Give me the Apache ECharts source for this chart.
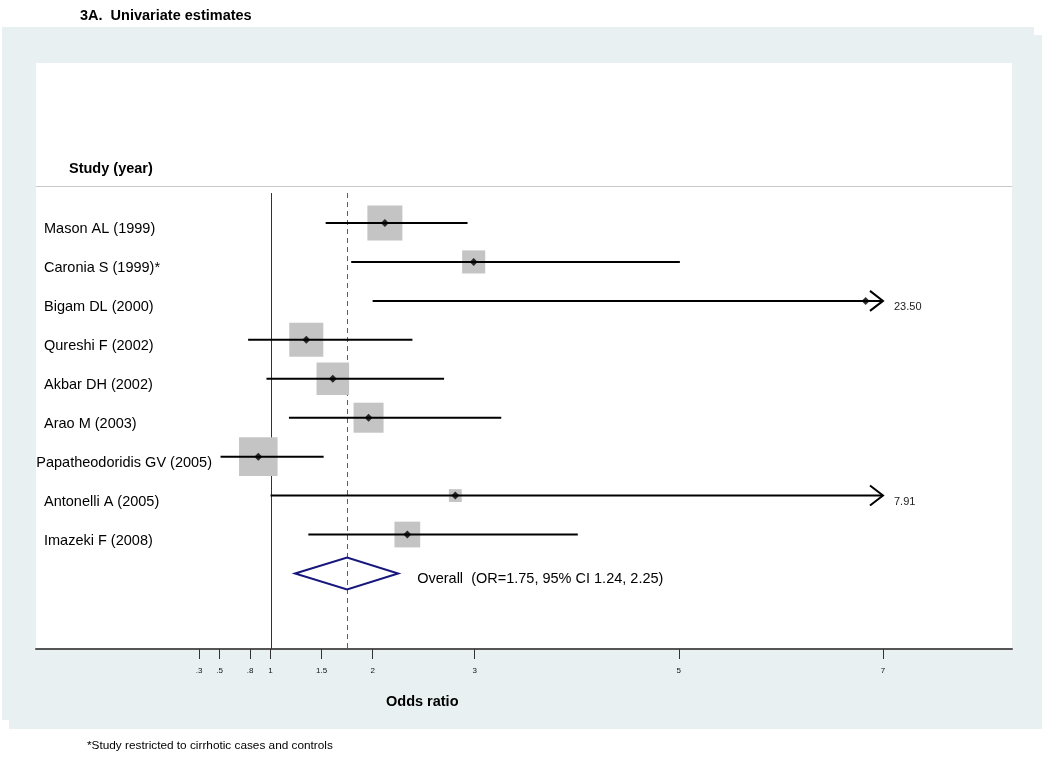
<!DOCTYPE html>
<html>
<head>
<meta charset="utf-8">
<script src="https://cdn.jsdelivr.net/npm/echarts@6/dist/echarts.min.js"></script>
<style>
html,body{margin:0;padding:0;background:#fff;}
#chart{width:1050px;height:762px;}
</style>
</head>
<body>
<div id="chart"></div>
<script>
// ---- data ----
const studies = ['Mason AL (1999)', 'Caronia S (1999)*', 'Bigam DL (2000)', 'Qureshi F (2002)', 'Akbar DH (2002)', 'Arao M (2003)', 'Papatheodoridis GV (2005)', 'Antonelli A (2005)', 'Imazeki F (2008)'];
const oddsRatios = [2.12, 2.99, 6.83, 1.35, 1.61, 1.96, 0.88, 2.81, 2.34];
const ciLower = [1.54, 1.79, 2.00, 0.78, 0.96, 1.18, 0.51, 1.00, 1.37];
const ciUpper = [2.93, 5.01, 23.50, 2.39, 2.70, 3.26, 1.52, 7.91, 4.01];
const weights = [17.0, 7.4, 0.2, 16.1, 14.7, 12.5, 20.6, 2.3, 9.2];
const overallEstimate = [1.75, 1.24, 2.25]; // OR, lower, upper
const nullValue = 1;
const tickValues = [0.3, 0.5, 0.8, 1, 1.5, 2, 3, 5, 7];
const tickLabels = ['.3', '.5', '.8', '1', '1.5', '2', '3', '5', '7'];

const FONT = '"Liberation Sans", Arial, sans-serif';
const capValue = tickValues[tickValues.length - 1];
const overallRow = studies.length;
const X_MIN = -1.298, X_MAX = 8.264, Y_MIN = -4.109, Y_MAX = 10.94;

const measureCanvas = document.createElement('canvas').getContext('2d');
function textWidth(t, font) { measureCanvas.font = font; return measureCanvas.measureText(t).width; }

const chart = echarts.init(document.getElementById('chart'), null, { renderer: 'canvas' });

const boxData = oddsRatios.map((v, i) => [v, i, weights[i]]);
const ciData = oddsRatios.map((v, i) => [v, i, ciLower[i], ciUpper[i]]);
const pointData = oddsRatios.map((v, i) => [v, i]);
const labelData = studies.map((s, i) => [0, i]);
const refData = [[nullValue, 0], [overallEstimate[0], 0]];
const refStyles = [
  { stroke: '#333333', lineWidth: 1 },
  { stroke: '#b03a44', lineWidth: 1, lineDash: [5, 4] }
];

const option = {
  animation: false,
  backgroundColor: '#ffffff',
  graphic: [
    { type: 'rect', z: -10, silent: true, shape: { x: 2, y: 27, width: 1032, height: 693 }, style: { fill: '#e8f0f2' } },
    { type: 'rect', z: -10, silent: true, shape: { x: 9, y: 35, width: 1033, height: 694 }, style: { fill: '#e8f0f2' } },
    { type: 'rect', z: -9, silent: true, shape: { x: 36, y: 63, width: 976, height: 586 }, style: { fill: '#ffffff' } },
    { type: 'text', z: 10, left: 80, top: 8, style: { text: '3A.  Univariate estimates', font: 'bold 14.5px ' + FONT, fill: '#000' } },
    { type: 'text', z: 10, left: 69, top: 161, style: { text: 'Study (year)', font: 'bold 14.5px ' + FONT, fill: '#000' } },
    { type: 'text', z: 10, left: 386, top: 694, style: { text: 'Odds ratio', font: 'bold 14.5px ' + FONT, fill: '#000' } },
    { type: 'text', z: 10, left: 87, top: 740, style: { text: '*Study restricted to cirrhotic cases and controls', font: '11.8px ' + FONT, fill: '#000' } }
  ],
  grid: { left: 36, top: 63, width: 976, height: 586, show: false },
  xAxis: {
    type: 'value',
    min: X_MIN, max: X_MAX,
    splitLine: { show: false },
    axisLine: { show: true, onZero: false, lineStyle: { color: '#555', width: 2 } },
    axisTick: { show: true, customValues: tickValues, length: 10, lineStyle: { color: '#333', width: 1 } },
    axisLabel: {
      show: true, customValues: tickValues, margin: 18, fontSize: 8, color: '#111', fontFamily: FONT,
      formatter: function (v) { const k = tickValues.findIndex(t => Math.abs(t - v) < 1e-6); return k >= 0 ? tickLabels[k] : ''; }
    }
  },
  yAxis: { type: 'value', inverse: true, min: Y_MIN, max: Y_MAX, show: false },
  series: [
    {
      type: 'custom', z: 1, silent: true,
      data: refData,
      encode: { x: 0, y: 1 },
      renderItem: function (params, api) {
        const x = api.value(0);
        const children = [];
        if (params.dataIndex === 0) {
          const a = api.coord([X_MIN, -0.95]), b = api.coord([X_MAX, -0.95]);
          children.push({ type: 'line', shape: { x1: a[0], y1: Math.round(a[1]) + 0.5, x2: b[0], y2: Math.round(b[1]) + 0.5 }, style: { stroke: '#c8c8c8', lineWidth: 1 } });
        }
        const top = api.coord([x, -0.77]), bottom = api.coord([x, Y_MAX]);
        const px = Math.round(top[0]) + 0.5;
        children.push({ type: 'line', shape: { x1: px, y1: top[1], x2: px, y2: bottom[1] }, style: refStyles[params.dataIndex] });
        return { type: 'group', children: children };
      }
    },
    {
      type: 'scatter', z: 2, silent: true,
      data: boxData,
      symbol: 'rect',
      symbolSize: function (val) { return 8.49 * Math.sqrt(val[2]); },
      itemStyle: { color: '#c4c4c4', opacity: 1 }
    },
    {
      type: 'custom', z: 3, silent: true,
      data: ciData,
      encode: { x: [0, 2, 3], y: 1 },
      renderItem: function (params, api) {
        const row = api.value(1), lo = api.value(2), hi = api.value(3);
        const p1 = api.coord([lo, row]);
        const p2 = api.coord([Math.min(hi, capValue), row]);
        const children = [{
          type: 'line', shape: { x1: p1[0], y1: p1[1], x2: p2[0], y2: p2[1] },
          style: { stroke: '#000', lineWidth: 2 }
        }];
        if (hi > capValue) {
          children.push({
            type: 'polyline', shape: { points: [[p2[0] - 13, p2[1] - 10], [p2[0], p2[1]], [p2[0] - 13, p2[1] + 10]] },
            style: { stroke: '#000', lineWidth: 2, fill: null }
          });
          children.push({
            type: 'text', x: p2[0] + 11, y: p2[1] + 6,
            style: { text: hi.toFixed(2), font: '11px ' + FONT, fill: '#222', verticalAlign: 'middle', align: 'left' }
          });
        }
        return { type: 'group', children: children };
      }
    },
    {
      type: 'scatter', z: 4, silent: true,
      data: pointData, symbol: 'diamond', symbolSize: 8,
      itemStyle: { color: '#000' }
    },
    {
      type: 'custom', z: 4, silent: true,
      data: [[overallEstimate[0], overallRow, overallEstimate[1], overallEstimate[2]]],
      encode: { x: [0, 2, 3], y: 1 },
      renderItem: function (params, api) {
        const row = api.value(1);
        const c = api.coord([api.value(0), row]);
        const l = api.coord([api.value(2), row]);
        const r = api.coord([api.value(3), row]);
        const h = 16;
        return {
          type: 'group', children: [
            { type: 'polygon', shape: { points: [[l[0], l[1]], [c[0], c[1] - h], [r[0], r[1]], [c[0], c[1] + h]] },
              style: { stroke: '#16167c', lineWidth: 2, fill: null } },
            { type: 'text', x: r[0] + 19, y: r[1] + 6,
              style: { text: 'Overall  (OR=' + api.value(0).toFixed(2) + ', 95% CI ' + api.value(2).toFixed(2) + ', ' + api.value(3).toFixed(2) + ')',
                font: '14.5px ' + FONT, fill: '#000', verticalAlign: 'middle', align: 'left' } }
          ]
        };
      }
    },
    {
      type: 'custom', z: 5, silent: true,
      data: labelData,
      encode: { y: 1 },
      renderItem: function (params, api) {
        const row = api.value(1);
        const p = api.coord([0, row]);
        const font = '14.5px ' + FONT;
        const t = studies[params.dataIndex];
        const x = Math.min(44, 212 - textWidth(t, font));
        return { type: 'text', x: x, y: p[1] + 6, style: { text: t, font: font, fill: '#000', verticalAlign: 'middle', align: 'left' } };
      }
    }
  ]
};
chart.setOption(option);
</script>
</body>
</html>
